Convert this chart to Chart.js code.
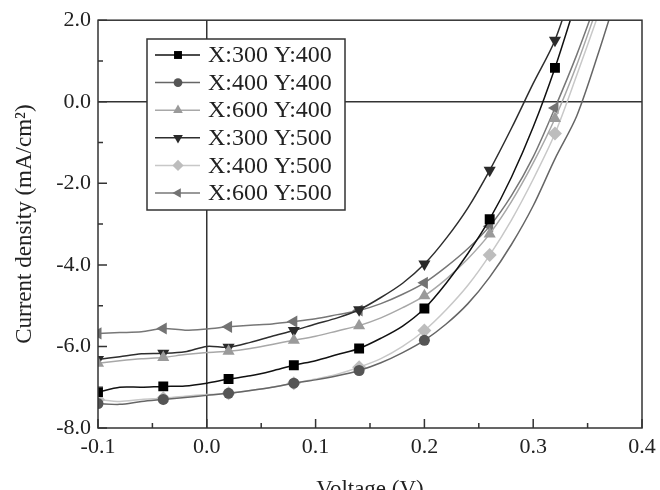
<!DOCTYPE html>
<html>
<head>
<meta charset="utf-8">
<script src="https://cdn.jsdelivr.net/npm/chart.js@4/dist/chart.umd.min.js"></script>
<style>
  html, body { margin: 0; padding: 0; background: #fff; overflow: hidden; }
  canvas { display: block; }
</style>
</head>
<body>
<canvas id="jv" width="680" height="510"></canvas>
<script>
// voltage grid (V) and current density (mA/cm2)
voltage = [-0.10, -0.08, -0.06, -0.04, -0.02, 0.00, 0.02, 0.04, 0.06, 0.08, 0.10, 0.12,
           0.14, 0.16, 0.18, 0.20, 0.22, 0.24, 0.26, 0.28, 0.30, 0.32, 0.34, 0.36, 0.38];

x300y400 = [-7.12, -7.00, -7.00, -6.98, -6.97, -6.90, -6.80, -6.72, -6.60, -6.46, -6.35, -6.20,
            -6.05, -5.80, -5.50, -5.07, -4.45, -3.72, -2.88, -1.85, -0.62, 0.83, 2.50];
x400y400 = [-7.40, -7.42, -7.35, -7.30, -7.25, -7.20, -7.15, -7.08, -7.00, -6.90, -6.82, -6.72,
            -6.59, -6.40, -6.15, -5.85, -5.45, -4.95, -4.30, -3.50, -2.55, -1.40, -0.35, 1.20, 2.90];
x600y400 = [-6.41, -6.35, -6.30, -6.27, -6.20, -6.15, -6.12, -6.05, -5.95, -5.85, -5.75, -5.62,
            -5.49, -5.30, -5.05, -4.76, -4.35, -3.85, -3.24, -2.45, -1.50, -0.41, 0.90, 2.40];
x300y500 = [-6.32, -6.25, -6.18, -6.17, -6.13, -6.00, -6.02, -5.90, -5.75, -5.61, -5.45, -5.30,
            -5.10, -4.80, -4.45, -3.98, -3.35, -2.60, -1.68, -0.65, 0.45, 1.51, 3.10];
x400y500 = [-7.30, -7.35, -7.30, -7.27, -7.22, -7.18, -7.15, -7.08, -7.00, -6.90, -6.80, -6.68,
            -6.51, -6.30, -6.00, -5.61, -5.10, -4.50, -3.76, -2.90, -1.90, -0.78, 0.65, 2.15];
x600y500 = [-5.68, -5.66, -5.64, -5.56, -5.60, -5.57, -5.52, -5.48, -5.45, -5.39, -5.32, -5.22,
            -5.12, -4.95, -4.72, -4.44, -4.05, -3.60, -3.05, -2.30, -1.35, -0.15, 1.15, 2.60];

seriesNames = ['X:300 Y:400', 'X:400 Y:400', 'X:600 Y:400', 'X:300 Y:500', 'X:400 Y:500', 'X:600 Y:500'];
seriesData = [x300y400, x400y400, x600y400, x300y500, x400y500, x600y500];

xTicks = { min: -0.1, max: 0.4, step: 0.1 };
yTicks = { min: -8, max: 2, step: 2 };

lineColors = ['#111111', '#666666', '#a8a8a8', '#2e2e2e', '#c8c8c8', '#777777'];
markColors = ['#000000', '#555555', '#9a9a9a', '#2a2a2a', '#bdbdbd', '#737373'];
markStyles = ['rect', 'circle', 'triangle', 'triangle', 'rectRot', 'triangle'];
markRot = [0, 0, 0, 180, 0, 270];
markRadius = [7, 5.5, 7, 7, 7, 7];
markLast = [21, 15, 21, 21, 21, 21]; // last index that gets a marker

const serif = '"Liberation Serif", "Times New Roman", serif';
const textColor = '#222';

var datasets = seriesData.map(function(vals, k) {
    return {
        label: seriesNames[k],
        data: vals.map(function(v, i) { return { x: voltage[i], y: v }; }),
        borderColor: lineColors[k],
        backgroundColor: markColors[k],
        borderWidth: 1.5,
        tension: 0.3,
        pointStyle: markStyles[k],
        rotation: markRot[k],
        pointBorderWidth: 0,
        pointRadius: function(ctx) {
            var i = ctx.dataIndex;
            return (i % 3 === 0 && i <= markLast[k]) ? markRadius[k] : 0;
        }
    };
});

function isZero(ctx) {
    return ctx.tick && Math.abs(ctx.tick.value) < 1e-9;
}

// frame + inward ticks on left and bottom
const framePlugin = {
    id: 'frame',
    afterDraw(chart) {
        const ctx = chart.ctx;
        const a = chart.chartArea;
        const xs = chart.scales.x, ys = chart.scales.y;
        ctx.save();
        ctx.strokeStyle = '#333';
        ctx.lineWidth = 1.5;
        ctx.strokeRect(a.left, a.top, a.right - a.left, a.bottom - a.top);
        ctx.beginPath();
        for (let v = yTicks.min; v <= yTicks.max + 1e-9; v += yTicks.step / 2) {
            const py = ys.getPixelForValue(v);
            const len = (Math.round(v) % 2 === 0) ? 9 : 5;
            ctx.moveTo(a.left, py);
            ctx.lineTo(a.left + len, py);
        }
        for (let j = 0; j <= 10; j++) {
            const v = xTicks.min + j * xTicks.step / 2;
            const px = xs.getPixelForValue(v);
            const len = (j % 2 === 0) ? 9 : 5;
            ctx.moveTo(px, a.bottom);
            ctx.lineTo(px, a.bottom - len);
        }
        ctx.stroke();
        ctx.restore();
    }
};

// boxed legend inside the plot
const legendPlugin = {
    id: 'boxLegend',
    afterDraw(chart) {
        const ctx = chart.ctx;
        const box = { x: 147, y: 39, w: 198, h: 171 };
        ctx.save();
        ctx.fillStyle = '#fff';
        ctx.fillRect(box.x, box.y, box.w, box.h);
        ctx.strokeStyle = '#333';
        ctx.lineWidth = 1.5;
        ctx.strokeRect(box.x, box.y, box.w, box.h);
        ctx.font = '24px ' + serif;
        ctx.textBaseline = 'middle';
        ctx.textAlign = 'left';
        for (let k = 0; k < seriesNames.length; k++) {
            const cy = box.y + 16 + k * 27.6;
            ctx.strokeStyle = lineColors[k];
            ctx.lineWidth = 1.5;
            ctx.beginPath();
            ctx.moveTo(155, cy);
            ctx.lineTo(200, cy);
            ctx.stroke();
            ctx.fillStyle = markColors[k];
            Chart.helpers.drawPoint(ctx, {
                pointStyle: markStyles[k],
                rotation: markRot[k],
                radius: markRadius[k] * 0.8,
                borderWidth: 0
            }, 178, cy);
            ctx.fillStyle = textColor;
            ctx.fillText(seriesNames[k], 208, cy + 1);
        }
        ctx.restore();
    }
};

const canvas = document.getElementById('jv');
chart = new Chart(canvas.getContext('2d'), {
    type: 'line',
    data: { datasets: datasets },
    options: {
        responsive: false,
        animation: false,
        devicePixelRatio: 1,
        layout: { padding: { left: 0, top: 18, right: 38, bottom: 0 } },
        plugins: {
            legend: { display: false },
            tooltip: { enabled: false }
        },
        scales: {
            x: {
                type: 'linear',
                min: xTicks.min,
                max: xTicks.max,
                ticks: {
                    stepSize: xTicks.step,
                    font: { family: serif, size: 22 },
                    color: textColor,
                    padding: 6,
                    maxRotation: 0,
                    callback: v => v.toFixed(1)
                },
                grid: {
                    drawTicks: false,
                    lineWidth: 1.5,
                    color: ctx => isZero(ctx) ? '#333' : 'rgba(0,0,0,0)'
                },
                border: { display: false },
                title: {
                    display: true,
                    text: 'Voltage (V)',
                    font: { family: serif, size: 23 },
                    color: textColor,
                    padding: { top: 0, bottom: 6 }
                },
                afterFit: s => { s.height = 82; }
            },
            y: {
                min: yTicks.min,
                max: yTicks.max,
                ticks: {
                    stepSize: yTicks.step,
                    font: { family: serif, size: 22 },
                    color: textColor,
                    padding: 7,
                    callback: v => v.toFixed(1)
                },
                grid: {
                    drawTicks: false,
                    lineWidth: 1.5,
                    color: ctx => isZero(ctx) ? '#333' : 'rgba(0,0,0,0)'
                },
                border: { display: false },
                title: {
                    display: true,
                    text: 'Current density (mA/cm²)',
                    font: { family: serif, size: 23 },
                    color: textColor,
                    padding: { top: 11, bottom: 0 }
                },
                afterFit: s => { s.width = 98; }
            }
        }
    },
    plugins: [framePlugin, legendPlugin]
});
</script>
</body>
</html>
